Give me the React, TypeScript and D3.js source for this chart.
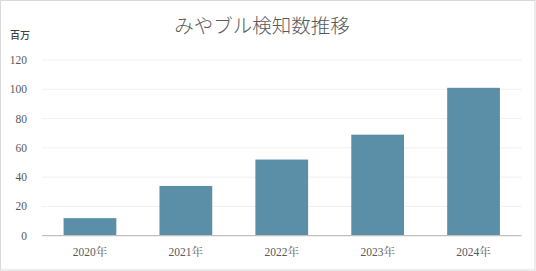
import React from "react";
import * as d3 from "d3";

const categories = ["2020年", "2021年", "2022年", "2023年", "2024年"];
const values = [12, 34, 52, 69, 101];
const yTicks = [0, 20, 40, 60, 80, 100, 120];
const title = "みやブル検知数推移";
const unitLabel = "百万";

export default function App() {
  const W = 536, H = 271;
  const left = 42, right = 521.5, top = 60, bottom = 235.7;
  const x = d3.scaleBand<string>().domain(categories).range([left, right]).paddingInner(0.45).paddingOuter(0.225);
  const y = d3.scaleLinear().domain([0, 120]).range([bottom, top]);
  const serif = "Liberation Serif, DejaVu Serif, Noto Serif CJK JP, Noto Sans CJK JP, serif";
  return (
    <div style={{ position: "fixed", left: 0, top: 0 }}>
      <svg width={W} height={H} style={{ display: "block" }}>
        <rect x={0.5} y={0.5} width={W - 1.5} height={H - 1.5} fill="#fff" stroke="#d9d9d9" />
        <text x={262} y={33} textAnchor="middle" fontSize={19.5} fill="#595959"
          style={{ fontFamily: "Noto Sans CJK JP, sans-serif", fontWeight: 300 }}>{title}</text>
        <text x={10} y={38.5} fontSize={10} fill="#404040" style={{ fontFamily: "Noto Sans CJK JP, sans-serif", fontWeight: 500 }}>{unitLabel}</text>
        {yTicks.map((t) => (
          <g key={t}>
            {t > 0 && <line x1={left} x2={right} y1={y(t)} y2={y(t)} stroke="#f0f0f0" strokeWidth={1} />}
            <text x={27} y={y(t) + 4} textAnchor="end" fontSize={11.5} fill="#595959" style={{ fontFamily: serif }}>{t}</text>
          </g>
        ))}
        {categories.map((c, i) => (
          <rect key={c} x={x(c)} y={y(values[i])} width={x.bandwidth()} height={bottom - y(values[i])} fill="#5b8fa8" />
        ))}
        <line x1={left} x2={right} y1={bottom} y2={bottom} stroke="#bfbfbf" strokeWidth={1.2} />
        {categories.map((c) => (
          <text key={c} x={(x(c) as number) + x.bandwidth() / 2} y={256} textAnchor="middle" fontSize={11.5}
            fill="#595959" style={{ fontFamily: serif }}>{c}</text>
        ))}
      </svg>
    </div>
  );
}
